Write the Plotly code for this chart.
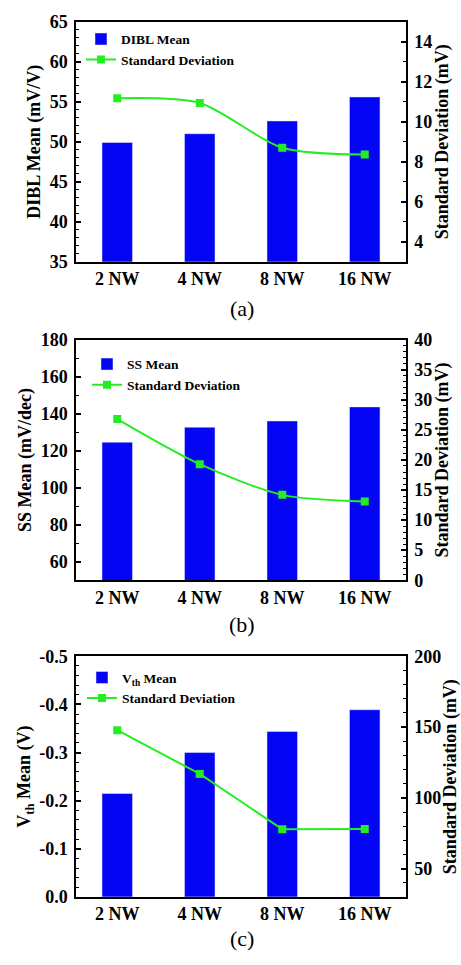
import plotly.graph_objects as go

# ---------------- data ----------------
categories = ["2 NW", "4 NW", "8 NW", "16 NW"]

dibl_mean = [49.9, 51.0, 52.6, 55.6]          # mV/V
dibl_std = [11.18, 10.94, 8.70, 8.36]          # mV

ss_mean = [124.6, 132.7, 136.1, 143.7]         # mV/dec
ss_std = [26.8, 19.3, 14.2, 13.1]              # mV

vth_mean = [-0.215, -0.300, -0.344, -0.389]    # V
vth_std = [147.8, 116.9, 77.8, 78.0]           # mV

vth_tickvals = [0.0, -0.1, -0.2, -0.3, -0.4, -0.5]
vth_ticktext = ["0.0", "-0.1", "-0.2", "-0.3", "-0.4", "-0.5"]

captions = ["(a)", "(b)", "(c)"]

# ---------------- style ----------------
W, H = 461, 965
BLUE = "#0505F5"
GREEN = "#22EE22"
FONT = "Liberation Serif"
tick_font = dict(family=FONT, size=18, color="black", weight="bold")
title_font = dict(family=FONT, size=18, color="black", weight="bold")
leg_font = dict(family=FONT, size=13.5, color="black", weight="bold")

x0, x1 = 76 / W, 406 / W
def ydom(top, bottom):
    return [1 - bottom / H, 1 - top / H]

panels = [
    dict(dom=ydom(12, 257), caption_y=305),
    dict(dom=ydom(336.7, 582.3), caption_y=628),
    dict(dom=ydom(660, 905.7), caption_y=948),
]

fig = go.Figure()

# panel (a)
fig.add_trace(go.Bar(x=categories, y=dibl_mean, name="DIBL Mean", marker_color=BLUE,
                     width=0.37, xaxis="x", yaxis="y", legend="legend", legendgroup="a1"))
fig.add_trace(go.Scatter(x=categories, y=dibl_std, name="Standard Deviation",
                         mode="lines+markers", line=dict(color=GREEN, width=2, shape="spline", smoothing=0.8),
                         marker=dict(symbol="square", size=8, color=GREEN),
                         xaxis="x", yaxis="y2", legend="legend", legendgroup="a2"))
# panel (b)
fig.add_trace(go.Bar(x=categories, y=ss_mean, name="SS Mean", marker_color=BLUE,
                     width=0.37, xaxis="x2", yaxis="y3", legend="legend2", legendgroup="b1"))
fig.add_trace(go.Scatter(x=categories, y=ss_std, name="Standard Deviation",
                         mode="lines+markers", line=dict(color=GREEN, width=2, shape="spline", smoothing=0.8),
                         marker=dict(symbol="square", size=8, color=GREEN),
                         xaxis="x2", yaxis="y4", legend="legend2", legendgroup="b2"))
# panel (c)
fig.add_trace(go.Bar(x=categories, y=vth_mean, name="V<sub>th</sub> Mean", marker_color=BLUE,
                     width=0.37, xaxis="x3", yaxis="y5", legend="legend3", legendgroup="c1"))
fig.add_trace(go.Scatter(x=categories, y=vth_std, name="Standard Deviation",
                         mode="lines+markers", line=dict(color=GREEN, width=2),
                         marker=dict(symbol="square", size=8, color=GREEN),
                         xaxis="x3", yaxis="y6", legend="legend3", legendgroup="c2"))

def xax(dom, anchor):
    return dict(domain=[x0, x1], anchor=anchor, showline=True, linecolor="black", linewidth=1.5,
                mirror=True, ticks="", tickfont=tick_font, showgrid=False, zeroline=False,
                range=[-0.5, 3.5], type="category")

def yax_left(dom, anchor, rng, dtick, minor, title, **kw):
    d = dict(domain=dom, anchor=anchor, range=rng, showline=True, linecolor="black", linewidth=1.5,
             ticks="inside", ticklen=5, tickwidth=1.5, tickcolor="black", dtick=dtick,
             minor=dict(ticks="inside", ticklen=3, tickwidth=1, tickcolor="black", dtick=minor),
             tickfont=tick_font, showgrid=False, zeroline=False, ticklabelstandoff=3,
             title=dict(text=title, font=title_font, standoff=4), side="left")
    d.update(kw)
    return d

def yax_right(dom, anchor, overlay, rng, dtick, minor, title):
    return dict(domain=dom, anchor=anchor, overlaying=overlay, side="right", range=rng,
                showline=True, linecolor="black", linewidth=1.5,
                ticks="inside", ticklen=5, tickwidth=1.5, tickcolor="black", dtick=dtick,
                minor=dict(ticks="inside", ticklen=3, tickwidth=1, tickcolor="black", dtick=minor),
                tickfont=tick_font, showgrid=False, zeroline=False, ticklabelstandoff=3,
                title=dict(text=title, font=title_font, standoff=3))

layout = dict(
    width=W, height=H, margin=dict(l=0, r=0, t=0, b=0), autosize=False,
    paper_bgcolor="white", plot_bgcolor="white", showlegend=True, barmode="overlay",
    xaxis=xax(panels[0]["dom"], "y"),
    xaxis2=xax(panels[1]["dom"], "y3"),
    xaxis3=xax(panels[2]["dom"], "y5"),
    yaxis=yax_left(panels[0]["dom"], "x", [35, 65], 5, 1, "DIBL Mean (mV/V)"),
    yaxis2=yax_right(panels[0]["dom"], "x", "y", [3, 15], 2, 1, "Standard Deviation (mV)"),
    yaxis3=yax_left(panels[1]["dom"], "x2", [50, 180], 20, 10, "SS Mean (mV/dec)"),
    yaxis4=yax_right(panels[1]["dom"], "x2", "y3", [0, 40], 5, 1, "Standard Deviation (mV)"),
    yaxis5=yax_left(panels[2]["dom"], "x3", [0, -0.5], None, 0.02, "V<sub>th</sub> Mean (V)",
                    tickvals=vth_tickvals, ticktext=vth_ticktext, tickmode="array"),
    yaxis6=yax_right(panels[2]["dom"], "x3", "y5", [30, 200], 50, 10, "Standard Deviation (mV)"),
)

def leg(xpx, ypx, gap):
    return dict(x=xpx / W, y=1 - ypx / H, xanchor="left", yanchor="top", font=leg_font,
                bgcolor="rgba(0,0,0,0)", borderwidth=0, tracegroupgap=gap, traceorder="normal")

layout["legend"] = leg(81, 14, 5)
layout["legend2"] = leg(87, 346, 6)
layout["legend3"] = leg(82, 666, 10)

fig.update_layout(**layout)

for cap, p in zip(captions, panels):
    fig.add_annotation(text=cap, x=242 / W, y=1 - p["caption_y"] / H, xref="paper", yref="paper",
                       xanchor="center", yanchor="middle", showarrow=False,
                       font=dict(family=FONT, size=22, color="black"))

fig.write_html("out.html", config={"displayModeBar": False},
               post_script="document.body.style.margin='0px';document.body.style.overflow='hidden';")
